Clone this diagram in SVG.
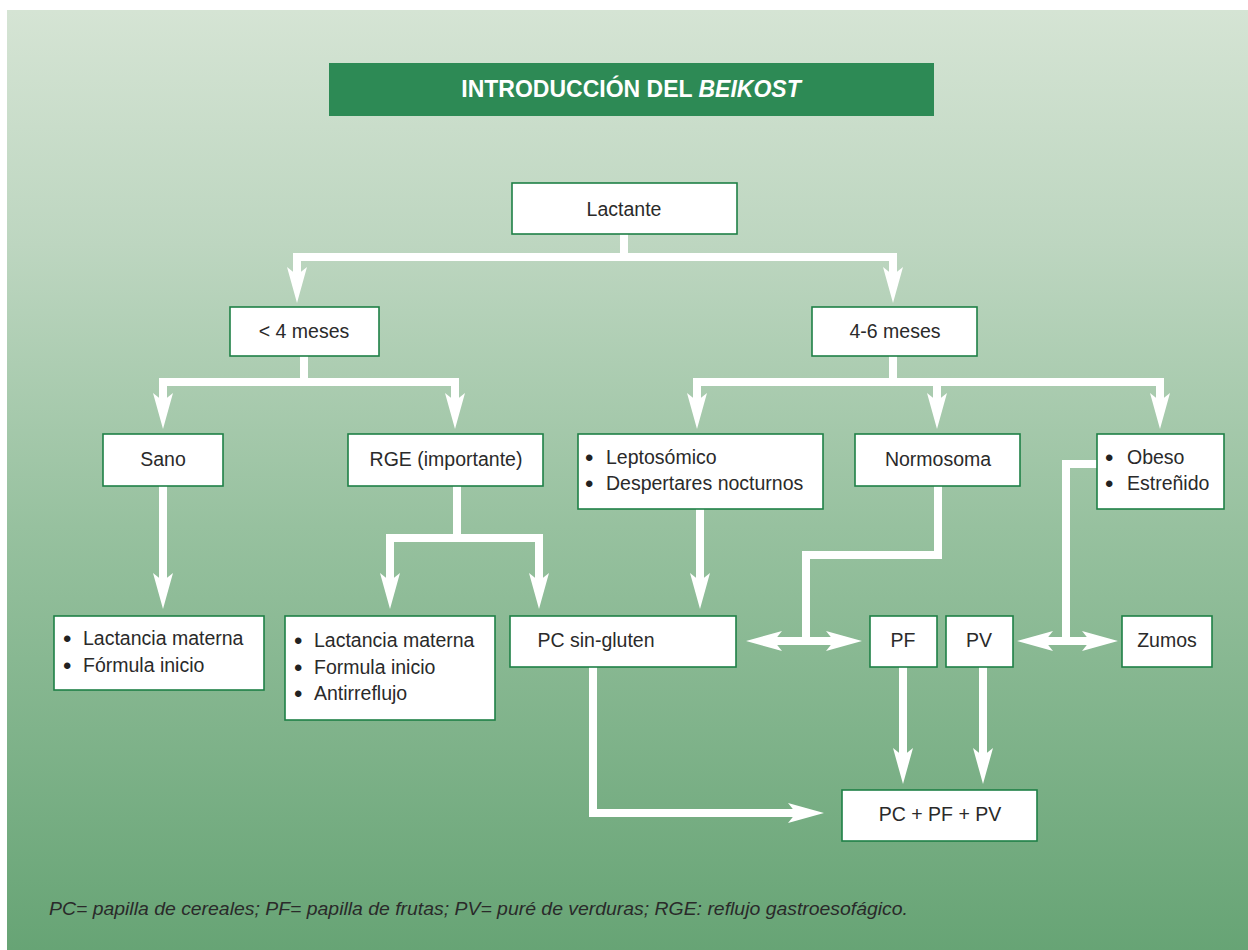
<svg xmlns="http://www.w3.org/2000/svg" width="1248" height="950" viewBox="0 0 1248 950">
  <defs>
    <linearGradient id="bg" x1="0" y1="0" x2="0" y2="1">
      <stop offset="0" stop-color="#d5e4d4"/>
      <stop offset="0.25" stop-color="#bdd6c0"/>
      <stop offset="0.55" stop-color="#97c19f"/>
      <stop offset="1" stop-color="#67a475"/>
    </linearGradient>
    <marker id="ah" markerUnits="userSpaceOnUse" markerWidth="40" markerHeight="24" refX="8" refY="10" orient="auto-start-reverse" overflow="visible">
      <path d="M0,0 L36,10 L0,20 L8,10 Z" fill="#ffffff"/>
    </marker>
    <style>
      .box { fill: #ffffff; stroke: #1f8046; stroke-width: 1.6; }
      .t { font-family: "Liberation Sans", Arial, sans-serif; font-size: 19.5px; fill: #2a2a2a; }
      .b { font-family: "Liberation Sans", Arial, sans-serif; font-size: 24px; fill: #222222; }
      .c { text-anchor: middle; }
      .con { fill: none; stroke: #ffffff; stroke-width: 8; stroke-linejoin: miter; stroke-linecap: butt; }
      .arr { marker-end: url(#ah); }
      .arr2 { marker-start: url(#ah); marker-end: url(#ah); }
    </style>
  </defs>

  <rect x="7" y="10" width="1241" height="940" fill="url(#bg)"/>

  <g id="title">
    <rect x="329" y="63" width="605" height="53" fill="#2d8a55"/>
    <text x="631" y="97" text-anchor="middle" font-family="'Liberation Sans', Arial, sans-serif" font-size="23" font-weight="bold" fill="#ffffff">INTRODUCCIÓN DEL <tspan font-style="italic">BEIKOST</tspan></text>
  </g>

  <g id="connectors">
    <path class="con" d="M624,234 V257"/>
    <path class="con arr2" d="M297,275 V257 H893 V275"/>
    <path class="con" d="M304,356 V382"/>
    <path class="con arr2" d="M163,401 V382 H455 V401"/>
    <path class="con" d="M893,356 V382"/>
    <path class="con arr2" d="M697,401 V382 H1160 V401"/>
    <path class="con arr" d="M937,382 V401"/>
    <path class="con arr" d="M163,486 V581"/>
    <path class="con" d="M457,486 V538"/>
    <path class="con arr2" d="M390,581 V538 H539 V581"/>
    <path class="con arr" d="M700,509 V581"/>
    <path class="con" d="M938,486 V555 H806 V641"/>
    <path class="con arr2" d="M774,641 H834"/>
    <path class="con" d="M1097,464 H1066 V641"/>
    <path class="con arr2" d="M1045,641 H1090"/>
    <path class="con arr" d="M593,667 V813 H796"/>
    <path class="con arr" d="M903,667 V756"/>
    <path class="con arr" d="M983,667 V756"/>
  </g>

  <g id="lactante">
    <rect class="box" x="512" y="183" width="225" height="51"/>
    <text class="t c" x="624" y="216">Lactante</text>
  </g>
  <g id="menos4">
    <rect class="box" x="230" y="307" width="149" height="49"/>
    <text class="t c" x="304" y="338">&lt; 4 meses</text>
  </g>
  <g id="meses46">
    <rect class="box" x="812" y="307" width="165" height="49"/>
    <text class="t c" x="895" y="338">4-6 meses</text>
  </g>
  <g id="sano">
    <rect class="box" x="103" y="434" width="120" height="52"/>
    <text class="t c" x="163" y="466">Sano</text>
  </g>
  <g id="rge">
    <rect class="box" x="348" y="434" width="195" height="52"/>
    <text class="t c" x="446" y="466">RGE (importante)</text>
  </g>
  <g id="lepto">
    <rect class="box" x="578" y="434" width="245" height="75"/>
    <text class="b" x="585" y="466">•</text>
    <text class="t" x="606" y="464">Leptosómico</text>
    <text class="b" x="585" y="492">•</text>
    <text class="t" x="606" y="490">Despertares nocturnos</text>
  </g>
  <g id="normosoma">
    <rect class="box" x="855" y="434" width="165" height="52"/>
    <text class="t c" x="938" y="466">Normosoma</text>
  </g>
  <g id="obeso">
    <rect class="box" x="1097" y="434" width="127" height="75"/>
    <text class="b" x="1105" y="466">•</text>
    <text class="t" x="1127" y="464">Obeso</text>
    <text class="b" x="1105" y="492">•</text>
    <text class="t" x="1127" y="490">Estreñido</text>
  </g>
  <g id="sano-list">
    <rect class="box" x="54" y="616" width="210" height="74"/>
    <text class="b" x="63" y="647">•</text>
    <text class="t" x="83" y="645">Lactancia materna</text>
    <text class="b" x="63" y="674">•</text>
    <text class="t" x="83" y="672">Fórmula inicio</text>
  </g>
  <g id="rge-list">
    <rect class="box" x="285" y="616" width="210" height="104"/>
    <text class="b" x="294" y="649">•</text>
    <text class="t" x="314" y="647">Lactancia materna</text>
    <text class="b" x="294" y="676">•</text>
    <text class="t" x="314" y="674">Formula inicio</text>
    <text class="b" x="294" y="702">•</text>
    <text class="t" x="314" y="700">Antirreflujo</text>
  </g>
  <g id="pc">
    <rect class="box" x="510" y="616" width="226" height="51"/>
    <text class="t c" x="596" y="647">PC sin-gluten</text>
  </g>
  <g id="pf">
    <rect class="box" x="870" y="616" width="67" height="51"/>
    <text class="t c" x="903" y="647">PF</text>
  </g>
  <g id="pv">
    <rect class="box" x="946" y="616" width="67" height="51"/>
    <text class="t c" x="979" y="647">PV</text>
  </g>
  <g id="zumos">
    <rect class="box" x="1122" y="616" width="90" height="51"/>
    <text class="t c" x="1167" y="647">Zumos</text>
  </g>
  <g id="pcpfpv">
    <rect class="box" x="842" y="790" width="195" height="51"/>
    <text class="t c" x="940" y="821">PC + PF + PV</text>
  </g>

  <g id="footnote">
    <text x="49" y="915" font-family="'Liberation Sans', Arial, sans-serif" font-size="18.5" font-style="italic" fill="#2a2a2a" textLength="859" lengthAdjust="spacingAndGlyphs">PC= papilla de cereales; PF= papilla de frutas; PV= puré de verduras; RGE: reflujo gastroesofágico.</text>
  </g>
</svg>
